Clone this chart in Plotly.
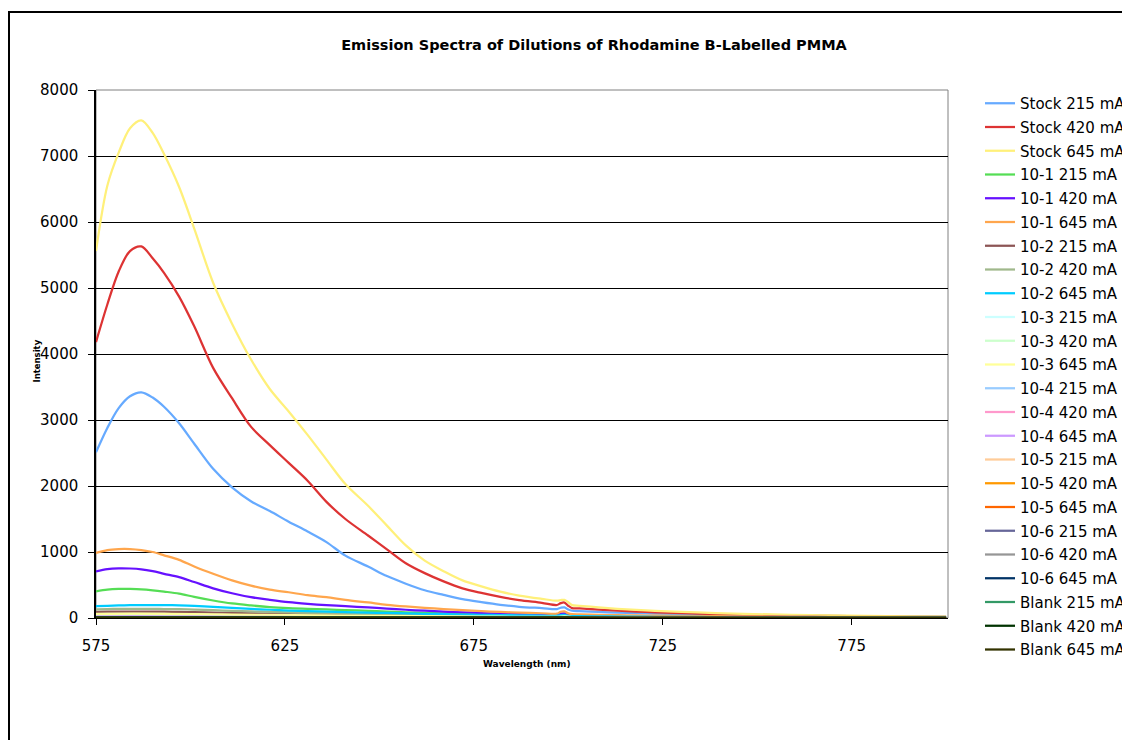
import plotly.graph_objects as go

# Wavelength grid (nm) for the brighter samples
wl = [575, 578, 581, 584, 587, 590, 593, 597, 601, 606, 611, 616, 621, 626, 631,
      636, 641, 647, 652, 657, 662, 667, 672, 677, 682, 687, 693, 697, 698, 699,
      700, 701, 703, 708, 713, 718, 723, 728, 739, 749, 759, 769, 779, 790, 800]

# Coarser grid for the faint dilutions and blanks
wl_low = [575, 585, 600, 620, 645, 675, 697, 699, 701, 730, 765, 800]

stock_215 = [2510, 2880, 3180, 3360, 3420, 3340, 3200, 2950, 2640, 2260, 1980, 1770, 1620, 1460, 1310,
             1150, 945, 780, 635, 520, 420, 350, 285, 240, 200, 170, 150, 136, 155, 161,
             128, 110, 105, 92, 82, 74, 67, 62, 52, 44, 37, 32, 28, 24, 21]
stock_420 = [4180, 4750, 5250, 5560, 5630, 5450, 5230, 4870, 4420, 3790, 3330, 2900, 2620, 2350, 2080,
             1760, 1500, 1250, 1040, 830, 680, 555, 450, 380, 320, 270, 230, 197, 225, 234,
             185, 150, 146, 128, 112, 98, 86, 76, 60, 48, 38, 31, 26, 22, 19]
stock_645 = [5560, 6550, 7050, 7420, 7540, 7350, 7030, 6530, 5900, 5080, 4460, 3920, 3470, 3130, 2775,
             2400, 2030, 1700, 1400, 1100, 870, 710, 570, 480, 400, 340, 290, 262, 272, 275,
             240, 195, 185, 160, 140, 122, 108, 96, 75, 60, 48, 40, 32, 26, 22]
d1_215 = [405, 430, 440, 440, 435, 420, 400, 370, 320, 265, 220, 190, 165, 148, 137,
          130, 120, 108, 97, 87, 78, 69, 61, 54, 48, 43, 38, 35, 50, 52,
          36, 30, 28, 25, 23, 21, 19, 18, 16, 14, 12, 11, 10, 9, 9]
d1_420 = [705, 740, 752, 750, 738, 710, 670, 620, 545, 450, 375, 315, 275, 240, 215,
          195, 180, 160, 142, 125, 110, 97, 85, 75, 66, 58, 51, 46, 66, 70,
          48, 40, 38, 34, 31, 28, 26, 24, 21, 18, 16, 15, 13, 12, 11]
d1_645 = [985, 1030, 1045, 1045, 1030, 1000, 950, 880, 780, 670, 570, 490, 430, 390, 345,
          315, 275, 235, 200, 175, 155, 135, 118, 104, 92, 81, 72, 65, 95, 100,
          70, 58, 55, 48, 43, 39, 35, 32, 27, 24, 21, 19, 17, 15, 14]
d2_215 = [92, 95, 97, 98, 98, 97, 96, 93, 89, 83, 76, 70, 64, 59, 54,
          50, 46, 42, 39, 36, 33, 30, 27, 25, 23, 21, 19, 17, 23, 24,
          17, 15, 14, 13, 12, 11, 10, 10, 9, 8, 7, 7, 6, 6, 6]
d2_420 = [132, 136, 138, 139, 139, 138, 136, 133, 127, 118, 108, 99, 91, 84, 77,
          71, 66, 61, 56, 51, 47, 43, 39, 35, 32, 29, 26, 24, 32, 34,
          24, 20, 19, 17, 16, 15, 14, 13, 11, 10, 9, 8, 8, 7, 7]
d2_645 = [178, 185, 190, 194, 196, 197, 195, 191, 183, 168, 152, 138, 125, 113, 104,
          96, 89, 82, 76, 70, 64, 58, 53, 48, 44, 40, 36, 33, 45, 47,
          33, 28, 27, 24, 22, 20, 18, 17, 15, 13, 12, 11, 10, 9, 9]

d3_215 = [30, 32, 29, 22, 16, 11, 9, 13, 8, 5, 4, 3]
d3_420 = [45, 48, 44, 34, 24, 16, 12, 17, 11, 7, 5, 4]
d3_645 = [62, 66, 60, 46, 33, 22, 17, 24, 15, 9, 7, 5]
d4_215 = [14, 15, 14, 11, 8, 6, 5, 7, 4, 3, 3, 2]
d4_420 = [18, 19, 17, 13, 10, 7, 6, 8, 5, 4, 3, 3]
d4_645 = [22, 23, 21, 16, 12, 8, 7, 10, 6, 4, 3, 3]
d5_215 = [9, 10, 9, 7, 6, 5, 4, 6, 4, 3, 3, 2]
d5_420 = [11, 12, 11, 9, 7, 5, 5, 7, 4, 3, 3, 3]
d5_645 = [13, 14, 13, 10, 8, 6, 5, 8, 5, 4, 3, 3]
d6_215 = [8, 9, 8, 7, 6, 5, 4, 6, 4, 3, 3, 2]
d6_420 = [9, 10, 9, 8, 6, 5, 5, 7, 4, 3, 3, 3]
d6_645 = [10, 11, 10, 8, 7, 5, 5, 7, 4, 3, 3, 3]
blank_215 = [6, 7, 6, 6, 5, 4, 4, 6, 4, 3, 3, 2]
blank_420 = [6, 6, 6, 5, 5, 4, 4, 5, 3, 3, 3, 2]
blank_645 = [7, 7, 7, 6, 5, 5, 4, 6, 4, 3, 3, 3]

x_ticks = [575, 625, 675, 725, 775]

series = [
    ("Stock 215 mA", wl, stock_215, "#66AAFF"),
    ("Stock 420 mA", wl, stock_420, "#DD3333"),
    ("Stock 645 mA", wl, stock_645, "#FFF07A"),
    ("10-1 215 mA", wl, d1_215, "#55DD55"),
    ("10-1 420 mA", wl, d1_420, "#6611FF"),
    ("10-1 645 mA", wl, d1_645, "#FFA64D"),
    ("10-2 215 mA", wl, d2_215, "#8C5555"),
    ("10-2 420 mA", wl, d2_420, "#A0B88C"),
    ("10-2 645 mA", wl, d2_645, "#00CCFF"),
    ("10-3 215 mA", wl_low, d3_215, "#CCFFFF"),
    ("10-3 420 mA", wl_low, d3_420, "#CCFFCC"),
    ("10-3 645 mA", wl_low, d3_645, "#FFFF99"),
    ("10-4 215 mA", wl_low, d4_215, "#99CCFF"),
    ("10-4 420 mA", wl_low, d4_420, "#FF99CC"),
    ("10-4 645 mA", wl_low, d4_645, "#CC99FF"),
    ("10-5 215 mA", wl_low, d5_215, "#FFCC99"),
    ("10-5 420 mA", wl_low, d5_420, "#FF9900"),
    ("10-5 645 mA", wl_low, d5_645, "#FF6600"),
    ("10-6 215 mA", wl_low, d6_215, "#666699"),
    ("10-6 420 mA", wl_low, d6_420, "#969696"),
    ("10-6 645 mA", wl_low, d6_645, "#003366"),
    ("Blank 215 mA", wl_low, blank_215, "#339966"),
    ("Blank 420 mA", wl_low, blank_420, "#003300"),
    ("Blank 645 mA", wl_low, blank_645, "#333300"),
]

FONT = "DejaVu Sans, Verdana, sans-serif"

fig = go.Figure()
for name, xs, ys, color in series:
    fig.add_trace(go.Scatter(
        x=xs, y=ys, name=name, mode="lines", legendgroup=name,
        line=dict(color=color, width=2.25, shape="spline", smoothing=0.9),
    ))

fig.update_layout(
    width=1122, height=740,
    margin=dict(l=96, r=174, t=90, b=122, autoexpand=False),
    paper_bgcolor="white", plot_bgcolor="white",
    font=dict(family=FONT, size=15, color="black"),
    title=dict(
        text="<b>Emission Spectra of Dilutions of Rhodamine B-Labelled PMMA</b>",
        x=594 / 1122, xanchor="center", y=1 - 45 / 740, yanchor="middle",
        font=dict(family=FONT, size=14.5, color="black"),
    ),
    xaxis=dict(
        range=[575, 800.5], tickmode="array", tickvals=x_ticks,
        showgrid=False, zeroline=False,
        showline=True, linecolor="black", linewidth=1,
        ticks="outside", ticklen=6, tickcolor="black",
        ticklabelstandoff=8,
        tickfont=dict(size=15),
    ),
    yaxis=dict(
        range=[0, 8000], dtick=1000, tickformat="d",
        showgrid=True, gridcolor="black", gridwidth=1, zeroline=False,
        showline=True, linecolor="black", linewidth=1.5,
        ticks="outside", ticklen=6, tickcolor="black",
        ticklabelstandoff=7,
        tickfont=dict(size=15),
    ),
    legend=dict(
        x=(980 - 96) / 852, xanchor="left",
        y=(618 - 87) / 528, yanchor="top",
        traceorder="grouped", tracegroupgap=1.25,
        maxheight=740,
        font=dict(family=FONT, size=15, color="black"),
        bgcolor="rgba(0,0,0,0)", borderwidth=0,
    ),
    showlegend=True,
    annotations=[
        dict(text="<b>Wavelength (nm)</b>", xref="paper", yref="paper",
             x=(527 - 96) / 852, y=(618 - 664) / 528, showarrow=False,
             xanchor="center", yanchor="middle",
             font=dict(family=FONT, size=9, color="black")),
        dict(text="<b>Intensity</b>", xref="paper", yref="paper",
             x=(36.5 - 96) / 852, y=(618 - 361) / 528, showarrow=False,
             textangle=-90, xanchor="center", yanchor="middle",
             font=dict(family=FONT, size=8.5, color="black")),
    ],
    shapes=[
        # plot-area frame
        dict(type="rect", xref="paper", yref="paper", x0=0, y0=0, x1=1, y1=1,
             line=dict(color="#808080", width=1), layer="below"),
        # chart-area border
        dict(type="rect", xref="paper", yref="paper",
             x0=(9 - 96) / 852, y0=(618 - 760) / 528,
             x1=(1140 - 96) / 852, y1=(618 - 12) / 528,
             line=dict(color="black", width=2)),
    ],
)

fig.write_html("out.html")
